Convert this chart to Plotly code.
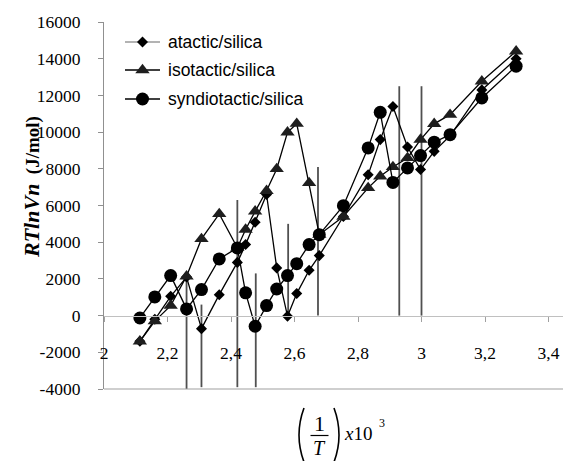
import plotly.graph_objects as go

# ---------------- data ----------------
x_vals = [2.113, 2.16, 2.21, 2.26, 2.307, 2.363, 2.42, 2.446, 2.476, 2.512, 2.544,
          2.578, 2.607, 2.646, 2.678, 2.754, 2.832, 2.87, 2.91, 2.956, 2.997, 3.04,
          3.09, 3.19, 3.298]

atactic = [-1400, -200, 1050, 2100, -710, 1140, 2900, 3870, 5090, 6600, 2600,
           -30, 1200, 2470, 3270, 5400, 7680, 9590, 11400, 9190, 7960, 8950,
           9800, 12300, 14000]

isotactic = [-1400, -300, 545, 2140, 4180, 5540, 3700, 4690, 5680, 6800, 7990,
             9990, 10460, 7230, 4410, 5400, 6960, 7590, 8100, 8590, 9590, 10450,
             10950, 12770, 14400]

syndiotactic = [-130, 1020, 2180, 365, 1420, 3090, 3690, 1240, -580, 545, 1450,
                2180, 2830, 3870, 4410, 5990, 9140, 11080, 7260, 8050, 8720, 9450,
                9860, 11860, 13590]

series_names = ["atactic/silica", "isotactic/silica", "syndiotactic/silica"]

# vertical marker lines (x, top, bottom)
vline_x = [2.26, 2.307, 2.42, 2.478, 2.58, 2.674, 2.93, 3.0]
vline_top = [2200, 600, 6300, 2300, 5000, 8100, 12500, 12500]
vline_bottom = [-4000, -3900, -3900, -3900, -200, 0, 0, 0]

x_tickvals = [2, 2.2, 2.4, 2.6, 2.8, 3.0, 3.2, 3.4]
x_ticktext = ["2", "2,2", "2,4", "2,6", "2,8", "3", "3,2", "3,4"]
y_tickvals = [-4000, -2000, 0, 2000, 4000, 6000, 8000, 10000, 12000, 14000, 16000]
y_ticktext = ["-4000", "-2000", "0", "2000", "4000", "6000", "8000", "10000",
              "12000", "14000", "16000"]

# ---------------- layout geometry ----------------
# the page body has an 8px default margin, so the figure is drawn 8px in/down
OFF = 8
W, H = 571 - OFF, 461 - OFF
# plot area in reference-image pixels
PX0, PX1, PY0, PY1 = 104, 571, 22, 389
L, R, T, B = PX0 - OFF, 571 - PX1, PY0 - OFF, H - (PY1 - OFF)
PW, PH = PX1 - PX0, PY1 - PY0

SERIF = "Liberation Serif, Times New Roman, serif"
SANS = "Liberation Sans, Arial, sans-serif"


def px(xp):
    return (xp - PX0) / PW


def py(yp):
    return (PY1 - yp) / PH


fig = go.Figure()

# vertical lines
vx, vy = [], []
for xv, top, bot in zip(vline_x, vline_top, vline_bottom):
    vx += [xv, xv, None]
    vy += [top, bot, None]
fig.add_trace(go.Scatter(x=vx, y=vy, mode="lines",
                         line=dict(color="#505050", width=1.8),
                         showlegend=False, hoverinfo="skip"))

styles = [
    dict(symbol="diamond", size=8.5, color="black"),
    dict(symbol="triangle-up", size=12.5, color="#1e1e1e"),
    dict(symbol="circle", size=13, color="black"),
]
for name, ys, st in zip(series_names, [atactic, isotactic, syndiotactic], styles):
    fig.add_trace(go.Scatter(
        x=x_vals, y=ys, mode="lines+markers", name=name,
        line=dict(color="black", width=1.3),
        marker=dict(symbol=st["symbol"], size=st["size"], color=st["color"],
                    line=dict(width=0)),
        showlegend=False))

# manual legend on pixel-coordinate overlay axes
leg_rows = [42, 70, 99]
leg_line_colors = ["#9a9a9a", "black", "black"]
for name, yrow, st, lc in zip(series_names, leg_rows, styles, leg_line_colors):
    fig.add_trace(go.Scatter(x=[125, 160], y=[yrow, yrow], mode="lines",
                             line=dict(color=lc, width=1.3),
                             xaxis="x2", yaxis="y2", showlegend=False, hoverinfo="skip"))
    fig.add_trace(go.Scatter(x=[142.5], y=[yrow], mode="markers",
                             marker=dict(symbol=st["symbol"], size=st["size"],
                                         color=st["color"], line=dict(width=0)),
                             xaxis="x2", yaxis="y2", showlegend=False, hoverinfo="skip"))

annotations = []
for name, yrow in zip(series_names, leg_rows):
    annotations.append(dict(x=px(166), y=py(yrow), xref="paper", yref="paper",
                            text=name, showarrow=False, xanchor="left", yanchor="middle",
                            font=dict(family=SANS, size=17.5, color="black")))

# y axis title
annotations.append(dict(
    x=px(31), y=py(187), xref="paper", yref="paper",
    text="<b><i><span style='font-size:22px'>RTlnVn</span></i>\u00a0\u00a0(J/mol)</b>",
    textangle=-90, showarrow=False, xanchor="center", yanchor="middle",
    font=dict(family=SERIF, size=19, color="black")))

# x axis title: (1/T) x10^3
xt = [
    dict(x=px(319), y=py(423), text="1", font=dict(family=SERIF, size=22),
         yanchor="middle"),
    dict(x=px(319), y=py(460.5), text="<i>T</i>", font=dict(family=SERIF, size=20),
         yanchor="bottom"),
    dict(x=px(358), y=py(433), text="<i>x</i>10", font=dict(family=SERIF, size=19),
         yanchor="middle"),
    dict(x=px(381.5), y=py(423), text="3", font=dict(family=SERIF, size=12),
         yanchor="middle"),
]
for a in xt:
    a.update(xref="paper", yref="paper", showarrow=False, xanchor="center")
    a["font"]["color"] = "black"
annotations += xt


def ppath(points):
    (x0, y0), (cx, cy), (x1, y1) = points
    return (f"M {px(x0)},{py(y0)} Q {px(cx)},{py(cy)} {px(x1)},{py(y1)}")


shapes = [
    # parentheses
    dict(type="path", xref="paper", yref="paper",
         path=ppath([(304, 408), (294, 435), (304, 462)]),
         line=dict(color="black", width=1.6)),
    dict(type="path", xref="paper", yref="paper",
         path=ppath([(334, 408), (344, 435), (334, 462)]),
         line=dict(color="black", width=1.6)),
    # fraction bar
    dict(type="line", xref="paper", yref="paper", x0=px(310.5), x1=px(328.5),
         y0=py(435.5), y1=py(435.5), line=dict(color="black", width=1.2)),
    # bottom line at -4000
    dict(type="line", xref="paper", yref="paper", x0=0, x1=1, y0=0, y1=0,
         line=dict(color="#a0a0a0", width=1.2)),
]

fig.update_layout(
    width=W, height=H,
    margin=dict(l=L, r=R, t=T, b=B, pad=0),
    paper_bgcolor="white", plot_bgcolor="white",
    showlegend=False,
    annotations=annotations,
    shapes=shapes,
    xaxis=dict(range=[2, 2 + PW / 317.5], anchor="free", position=0.2,
               tickvals=x_tickvals, ticktext=x_ticktext,
               ticks="outside", ticklen=5, tickcolor="#a0a0a0", tickwidth=1,
               showline=True, linecolor="#c0c0c0", linewidth=1.2,
               showgrid=False, zeroline=False,
               tickfont=dict(family=SERIF, size=17.5, color="black"),
               ticklabelstandoff=16),
    yaxis=dict(range=[-4000, 16000], tickvals=y_tickvals, ticktext=y_ticktext,
               ticks="outside", ticklen=5, tickcolor="#909090", tickwidth=1,
               showline=True, linecolor="#909090", linewidth=1.2,
               showgrid=False, zeroline=False,
               tickfont=dict(family=SERIF, size=17.5, color="black"),
               ticklabelstandoff=14),
    xaxis2=dict(overlaying="x", anchor="y2", range=[PX0, PX1], visible=False),
    yaxis2=dict(overlaying="y", anchor="x2", range=[PY1, PY0], visible=False),
)

fig.write_html("out.html")
